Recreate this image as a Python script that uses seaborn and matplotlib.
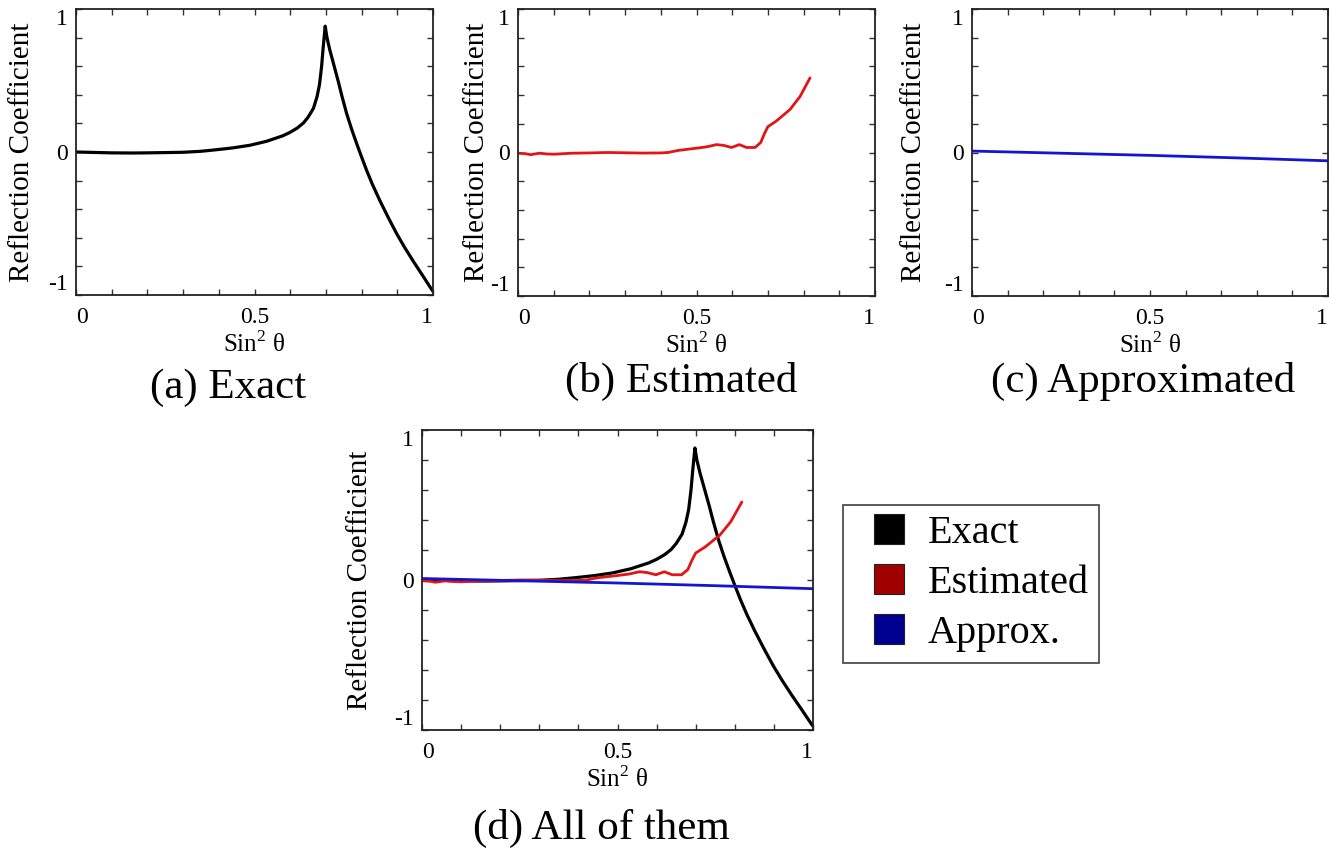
import matplotlib
matplotlib.use("Agg")
import matplotlib.pyplot as plt
import seaborn as sns
import numpy as np
import pandas as pd
from matplotlib.lines import Line2D
from matplotlib.ticker import MultipleLocator

# ---------------- data ----------------
exact_x = [0, 0.1, 0.16, 0.2, 0.3, 0.35, 0.394, 0.44, 0.487, 0.534, 0.58, 0.6,
           0.62, 0.637, 0.65, 0.665, 0.675, 0.682, 0.688, 0.692, 0.695, 0.698,
           0.703, 0.711, 0.72, 0.735, 0.745, 0.758, 0.772, 0.786, 0.80, 0.814,
           0.83, 0.851, 0.875, 0.898, 0.92, 0.945, 0.97, 0.992, 1.0]
exact_y = [0, -0.006, -0.007, -0.006, -0.002, 0.005, 0.016, 0.029, 0.047, 0.075,
           0.114, 0.138, 0.168, 0.203, 0.243, 0.305, 0.385, 0.47, 0.6, 0.72, 0.8, 0.88,
           0.8, 0.713, 0.63, 0.49, 0.39, 0.27, 0.16, 0.06, -0.035, -0.128,
           -0.225, -0.339, -0.46, -0.57, -0.665, -0.765, -0.86, -0.945, -0.975]

est_x = [0, 0.02, 0.035, 0.06, 0.08, 0.1, 0.15, 0.2, 0.25, 0.3, 0.35, 0.4, 0.42,
         0.45, 0.5, 0.53, 0.556, 0.575, 0.598, 0.62, 0.64, 0.664, 0.68, 0.69,
         0.70, 0.724, 0.762, 0.79, 0.818]
est_y = [-0.005, -0.008, -0.015, -0.005, -0.01, -0.012, -0.005, -0.003, 0.0,
         -0.002, -0.004, -0.003, 0.0, 0.015, 0.03, 0.04, 0.055, 0.05, 0.035,
         0.055, 0.035, 0.035, 0.07, 0.13, 0.18, 0.22, 0.3, 0.39, 0.52]

approx_x = [0, 0.25, 0.5, 0.75, 1.0]
approx_y = [0.01, -0.005, -0.02, -0.038, -0.058]

xtick_vals = [0, 0.5, 1]
xtick_text = ["0", "0.5", "1"]
ytick_vals = [-1, 0, 1]
ytick_text = ["-1", "0", "1"]

panel_titles = ["(a) Exact", "(b) Estimated", "(c) Approximated", "(d) All of them"]
legend_labels = ["Exact", "Estimated", "Approx."]

# ---------------- style ----------------
sns.set_theme(style="white")
plt.rcParams["font.family"] = ["Liberation Serif", "DejaVu Serif"]
plt.rcParams["mathtext.fontset"] = "custom"
plt.rcParams["mathtext.rm"] = "Liberation Serif"
for k in ["text.color", "axes.labelcolor", "xtick.color", "ytick.color"]:
    plt.rcParams[k] = "black"

W, H = 1329, 851
fig = plt.figure(figsize=(W / 100, H / 100), dpi=100)
fig.patch.set_facecolor("white")

def px_axes(left, top, right, bottom):
    return fig.add_axes([left / W, 1 - bottom / H, (right - left) / W, (bottom - top) / H])

C_BLACK = "#000000"
C_RED = "#e31414"
C_BLUE = "#1414d2"

def style_axes(ax, ylab_x):
    ax.set_xlim(0, 1)
    ax.set_ylim(-1, 1)
    ax.set_xticks(xtick_vals)
    ax.set_xticklabels(xtick_text)
    ax.set_yticks(ytick_vals)
    ax.set_yticklabels(ytick_text)
    ax.xaxis.set_minor_locator(MultipleLocator(0.1))
    ax.yaxis.set_minor_locator(MultipleLocator(0.2))
    ax.tick_params(which="both", direction="in", length=4, width=1.0,
                   top=True, right=True, bottom=True, left=True, color="#333333")
    ax.tick_params(axis="x", which="major", labelsize=17, pad=9)
    ax.tick_params(axis="y", which="major", labelsize=17, pad=6)
    xl = ax.get_xticklabels()
    xl[0].set_ha("left")
    xl[-1].set_ha("right")
    yl = ax.get_yticklabels()
    yl[0].set_va("bottom")
    yl[-1].set_va("top")
    for s in ax.spines.values():
        s.set_visible(True)
        s.set_color("#222222")
        s.set_linewidth(1.3)
    ax.set_xlabel("Sin$^{2}$ θ", fontsize=18, labelpad=2)
    ax.set_ylabel("Reflection Coefficient", fontsize=21)
    ax.yaxis.set_label_coords(ylab_x, 0.5)
    ax.grid(False)
    ax.set_facecolor("white")

df_exact = pd.DataFrame({"x": exact_x, "y": exact_y})
df_est = pd.DataFrame({"x": est_x, "y": est_y})
df_app = pd.DataFrame({"x": approx_x, "y": approx_y})

# (a)
ax_a = px_axes(76, 9, 433, 295)
sns.lineplot(data=df_exact, x="x", y="y", ax=ax_a, color=C_BLACK, linewidth=2.3, estimator=None)
style_axes(ax_a, -0.115)

# (b)
ax_b = px_axes(518, 9, 875, 296)
sns.lineplot(data=df_est, x="x", y="y", ax=ax_b, color=C_RED, linewidth=2.0, estimator=None)
style_axes(ax_b, -0.078)

# (c)
ax_c = px_axes(972, 9, 1328, 296)
sns.lineplot(data=df_app, x="x", y="y", ax=ax_c, color=C_BLUE, linewidth=2.0, estimator=None)
style_axes(ax_c, -0.126)

# (d)
ax_d = px_axes(422, 430, 813, 730)
sns.lineplot(data=df_exact, x="x", y="y", ax=ax_d, color=C_BLACK, linewidth=2.3, estimator=None)
sns.lineplot(data=df_est, x="x", y="y", ax=ax_d, color=C_RED, linewidth=2.0, estimator=None)
sns.lineplot(data=df_app, x="x", y="y", ax=ax_d, color=C_BLUE, linewidth=2.0, estimator=None)
style_axes(ax_d, -0.125)

# captions
title_pos = [(228, 388), (681, 381), (1143, 381), (601, 828)]
for t, (x, y) in zip(panel_titles, title_pos):
    fig.text(x / W, 1 - y / H, t, ha="center", va="center", fontsize=31, color="black")

# legend
leg_colors = ["#000000", "#a00000", "#000090"]
handles = [Line2D([], [], marker="s", linestyle="None", markersize=21,
                  markerfacecolor=c, markeredgecolor="#222222", markeredgewidth=0.8)
           for c in leg_colors]
leg = fig.legend(handles, legend_labels, loc="upper left",
                 bbox_to_anchor=(843 / W, 1 - 505 / H), bbox_transform=fig.transFigure,
                 fontsize=29, frameon=True, fancybox=False, borderaxespad=0,
                 borderpad=0.25, handlelength=1.8, handletextpad=0.05, labelspacing=0.32)
leg.get_frame().set_edgecolor("#222222")
leg.get_frame().set_linewidth(1.3)
for txt in leg.get_texts():
    txt.set_color("black")

fig.savefig("out.png", dpi=100, facecolor="white")
